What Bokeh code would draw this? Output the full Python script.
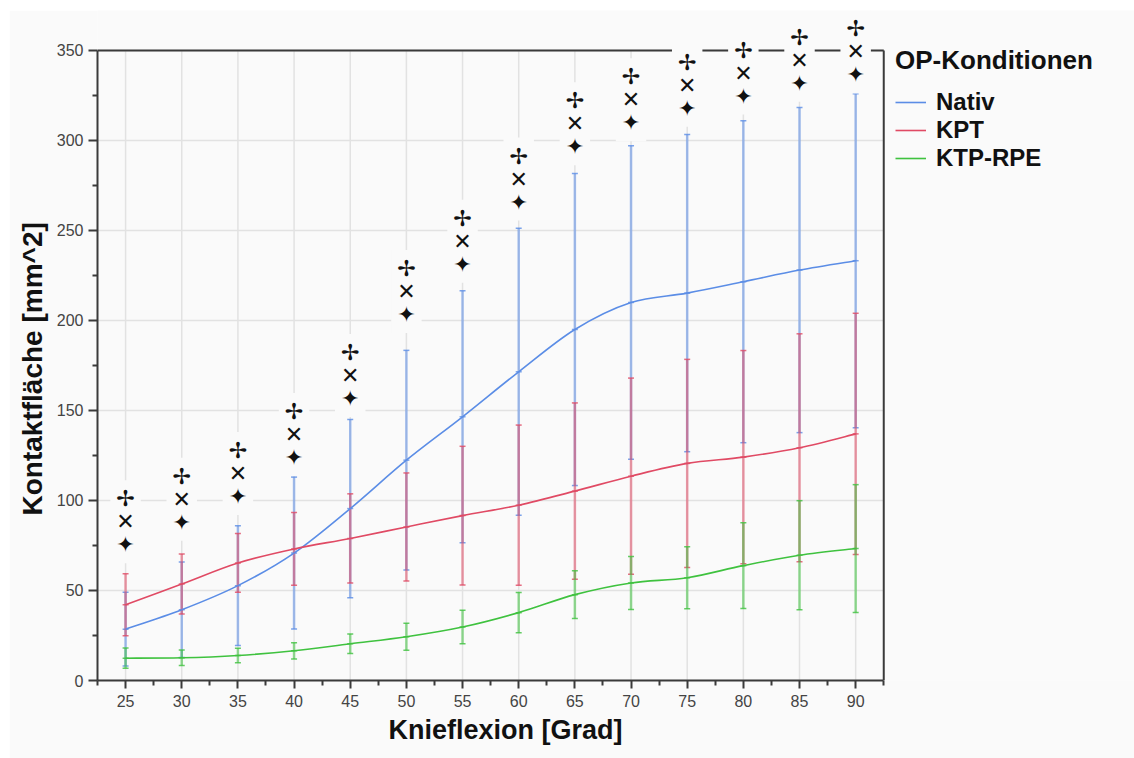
import numpy as np
from bokeh.plotting import figure
from bokeh.models import FixedTicker, LinearAxis, Legend, LegendItem, Range1d, Title
from bokeh.core.properties import value
from bokeh.embed import file_html
from bokeh.resources import INLINE

# Knee flexion angles [deg]
flexion = [25, 30, 35, 40, 45, 50, 55, 60, 65, 70, 75, 80, 85, 90]

# Contact area, mean and standard deviation [mm^2]
nativ_mean = [28.5, 39.3, 52.7, 70.8, 95.5, 122.4, 146.5, 171.5, 195.0, 210.0, 215.2, 221.5, 228.0, 233.2]
nativ_sd = [20.5, 26.5, 33.2, 42.2, 49.5, 61.0, 70.0, 79.7, 86.7, 87.1, 88.1, 89.4, 90.3, 92.8]

kpt_mean = [42.1, 53.6, 65.3, 73.1, 78.9, 85.3, 91.6, 97.4, 105.2, 113.5, 120.6, 124.1, 129.3, 137.0]
kpt_sd = [17.2, 16.7, 16.3, 20.2, 24.8, 30.0, 38.5, 44.5, 49.0, 54.5, 57.8, 59.2, 63.3, 67.0]

rpe_mean = [12.4, 12.6, 13.9, 16.5, 20.4, 24.3, 29.7, 37.7, 47.7, 54.2, 57.1, 63.8, 69.6, 73.3]
rpe_sd = [5.6, 4.3, 4.0, 4.5, 5.4, 7.5, 9.3, 11.2, 13.2, 14.7, 17.2, 23.8, 30.3, 35.5]

# Significance symbols stacked above each angle, and the height they sit at
sig_symbols = "\u2722\n\u2715\n\u2726"
sig_y = [65.1, 77.6, 92.0, 113.6, 146.4, 193.1, 221.0, 255.5, 286.2, 299.6, 307.6, 314.4, 321.5, 326.1]

y_ticks = [0, 50, 100, 150, 200, 250, 300, 350]
y_minor = [25, 75, 125, 175, 225, 275, 325]
x_minor = [22.5 + 5 * i for i in range(15)]

series = [
    ("Nativ", nativ_mean, nativ_sd, "#5b8de6"),
    ("KPT", kpt_mean, kpt_sd, "#e04a64"),
    ("KTP-RPE", rpe_mean, rpe_sd, "#3fc23f"),
]

BG = "#fafafa"
AX = "#3a3a3a"
GRID = "#e2e2e2"
FONT = "Liberation Sans"

X0, X1 = 22.5, 92.5
Y_TOP = 350
PX_PER_X = 11.243  # horizontal scale of the plotting area

# the drawing area also spans the legend column on the right
p = figure(
    width=1125, height=748, margin=(10, 0, 0, 9),
    x_range=Range1d(X0, X0 + (1125 - 87) / PX_PER_X), y_range=Range1d(0, 372.2),
    min_border_left=87, min_border_right=0, min_border_top=0, min_border_bottom=78,
    background_fill_color=BG, border_fill_color=BG, outline_line_color=None,
    toolbar_location=None, output_backend="svg",
    x_axis_type=None, y_axis_type=None,
)

# axes
xaxis = LinearAxis(
    ticker=FixedTicker(ticks=flexion, minor_ticks=x_minor), bounds=(X0, X1),
    major_tick_out=8, major_tick_in=0, minor_tick_out=5, minor_tick_in=0,
    axis_line_width=2, axis_line_color=AX, major_tick_line_color=AX, minor_tick_line_color=AX,
    major_tick_line_width=2, minor_tick_line_width=2,
    major_label_text_font=FONT, major_label_text_font_size="16px", major_label_text_color="#444444",
    major_label_standoff=6,
)
p.add_layout(xaxis, "below")

yaxis = LinearAxis(
    ticker=FixedTicker(ticks=y_ticks, minor_ticks=y_minor), bounds=(0, Y_TOP),
    major_tick_out=9, major_tick_in=0, minor_tick_out=5, minor_tick_in=0,
    axis_line_width=2, axis_line_color=AX, major_tick_line_color=AX, minor_tick_line_color=AX,
    major_tick_line_width=2, minor_tick_line_width=2,
    major_label_text_font=FONT, major_label_text_font_size="16px", major_label_text_color="#444444",
    major_label_standoff=5,
)
p.add_layout(yaxis, "left")

# axis titles, centred under / beside the plotting box
p.add_layout(Title(text="Knieflexion [Grad]", align="left", offset=291,
                   text_font=FONT, text_font_style="bold", text_font_size="27px",
                   text_color="#111111", standoff=6), "below")
p.add_layout(Title(text="Kontaktfläche [mm^2]", align="left", offset=165,
                   text_font=FONT, text_font_style="bold", text_font_size="28px",
                   text_color="#111111", standoff=11), "left")

# grid lines, limited to the plotting box
gx = p.segment(x0=flexion, y0=[0] * len(flexion), x1=flexion, y1=[Y_TOP] * len(flexion),
               line_color=GRID, line_width=1.5)
gy = p.segment(x0=[X0] * len(y_ticks), y0=y_ticks, x1=[X1] * len(y_ticks), y1=y_ticks,
               line_color=GRID, line_width=1.5)
# top and right frame lines
frame = p.segment(x0=[X0, X1], y0=[Y_TOP, 0], x1=[X1, X1], y1=[Y_TOP, Y_TOP],
                  line_color=AX, line_width=2)
for r in (gx, gy, frame):
    r.level = "underlay"

# error bars: mean +/- SD
xs = np.array(flexion, dtype=float)
for name, mean, sd, color in series:
    m = np.array(mean)
    s = np.array(sd)
    p.segment(x0=xs, y0=m - s, x1=xs, y1=m + s, line_color=color, line_width=2.5, line_alpha=0.55)
    for yy in (m - s, m + s, m):
        p.scatter(x=xs, y=yy, marker="dash", size=6, line_color=color, line_width=1.5, line_alpha=0.8)

# smooth curves through the means (Catmull-Rom as cubic Bezier segments)
legend_items = []
for name, mean, sd, color in series:
    m = np.array(mean)
    n = len(xs)
    x0, y0, x1, y1, cx0, cy0, cx1, cy1 = ([] for _ in range(8))
    for i in range(n - 1):
        ip = max(i - 1, 0)
        inx = min(i + 2, n - 1)
        x0.append(xs[i]); y0.append(m[i])
        x1.append(xs[i + 1]); y1.append(m[i + 1])
        cx0.append(xs[i] + (xs[i + 1] - xs[ip]) / 6); cy0.append(m[i] + (m[i + 1] - m[ip]) / 6)
        cx1.append(xs[i + 1] - (xs[inx] - xs[i]) / 6); cy1.append(m[i + 1] - (m[inx] - m[i]) / 6)
    curve = p.bezier(x0=x0, y0=y0, x1=x1, y1=y1, cx0=cx0, cy0=cy0, cx1=cx1, cy1=cy1,
                     line_color=color, line_width=1.6)
    legend_items.append(LegendItem(label=name, renderers=[curve], index=0))

# significance symbols
p.text(x=flexion, y=sig_y, text=[sig_symbols] * len(flexion),
       text_font=value("DejaVu Sans"), text_font_size="22px", text_color="#111111",
       text_align="center", text_baseline="bottom", text_line_height=0.92,
       background_fill_color=BG, border_line_color=None, padding=6)

legend = Legend(
    items=legend_items, title="OP-Konditionen", location=(798, 508),
    title_text_font=FONT, title_text_font_style="bold", title_text_font_size="26px",
    title_text_color="#111111", title_standoff=12,
    label_text_font=FONT, label_text_font_style="bold", label_text_font_size="24px",
    label_text_color="#111111", label_standoff=10,
    glyph_width=31, glyph_height=20, spacing=-2, padding=0, margin=0,
    border_line_color=None, background_fill_alpha=0,
)
p.add_layout(legend, "center")

open("out.html", "w").write(file_html(p, INLINE))
